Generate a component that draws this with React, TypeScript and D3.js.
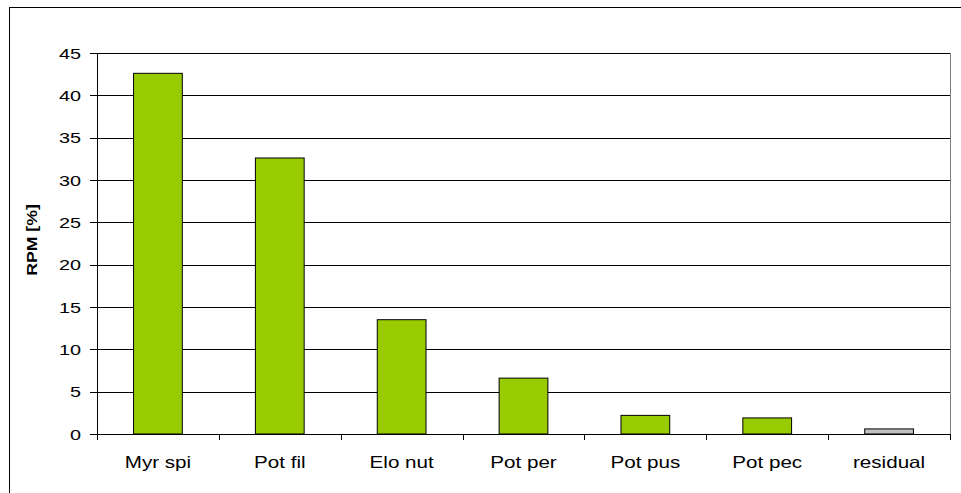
import React from "react";
import * as d3 from "d3";

const categories = ["Myr spi", "Pot fil", "Elo nut", "Pot per", "Pot pus", "Pot pec", "residual"];
const values = [42.6, 32.6, 13.5, 6.6, 2.2, 1.9, 0.6];
const barColors = ["#99CC00", "#99CC00", "#99CC00", "#99CC00", "#99CC00", "#99CC00", "#C0C0C0"];
const yTicks = [0, 5, 10, 15, 20, 25, 30, 35, 40, 45];
const yTitle = "RPM [%]";

const W = 961, H = 493;
const left = 97, right = 950, top = 53, bottom = 434;

export default function App() {
  const x = d3.scaleBand().domain(categories).range([left, right]).paddingInner(0).paddingOuter(0);
  const y = d3.scaleLinear().domain([0, 45]).range([bottom, top]);
  const bw = x.bandwidth() * 0.4;
  const font = "Liberation Sans, Arial, sans-serif";
  return (
    <svg width={W} height={H} style={{ position: "absolute", left: 0, top: 0, background: "#fff" }}>
      <rect x={9.5} y={7.5} width={W} height={H} fill="none" stroke="#000" strokeWidth={1} />
      {yTicks.map((t) => (
        <g key={t}>
          <line x1={left} x2={right} y1={Math.round(y(t)) + 0.5} y2={Math.round(y(t)) + 0.5} stroke="#000" strokeWidth={1} />
          <line x1={left - 7} x2={left} y1={Math.round(y(t)) + 0.5} y2={Math.round(y(t)) + 0.5} stroke="#000" />
          <text transform={`translate(81,${y(t)}) scale(1.28,1)`} dy="0.36em" textAnchor="end" fontFamily={font} fontSize={15.5} fill="#000">{t}</text>
        </g>
      ))}
      <line x1={right + 0.5} x2={right + 0.5} y1={top} y2={bottom} stroke="#808080" strokeWidth={1} />
      {categories.map((c, i) => {
        const cx = (x(c) as number) + x.bandwidth() / 2;
        return (
          <g key={c}>
            <rect x={cx - bw / 2} y={y(values[i])} width={bw} height={bottom - y(values[i])} fill={barColors[i]} stroke="#000" strokeWidth={1} />
            <text transform={`translate(${cx},462) scale(1.25,1)`} dy="0.36em" textAnchor="middle" fontFamily={font} fontSize={16.5} fill="#000">{c}</text>
          </g>
        );
      })}
      {d3.range(categories.length + 1).map((i) => {
        const xx = Math.round(left + i * x.bandwidth()) + 0.5;
        return <line key={i} x1={xx} x2={xx} y1={bottom} y2={bottom + 6} stroke="#000" />;
      })}
      <line x1={left + 0.5} x2={left + 0.5} y1={top} y2={bottom + 6} stroke="#000" />
      <line x1={left} x2={right} y1={bottom + 0.5} y2={bottom + 0.5} stroke="#000" />
      <text transform={`translate(32,240) rotate(-90) scale(1.18,1)`} textAnchor="middle" dy="0.36em" fontFamily={font} fontSize={15} fontWeight="bold" fill="#000">{yTitle}</text>
    </svg>
  );
}
